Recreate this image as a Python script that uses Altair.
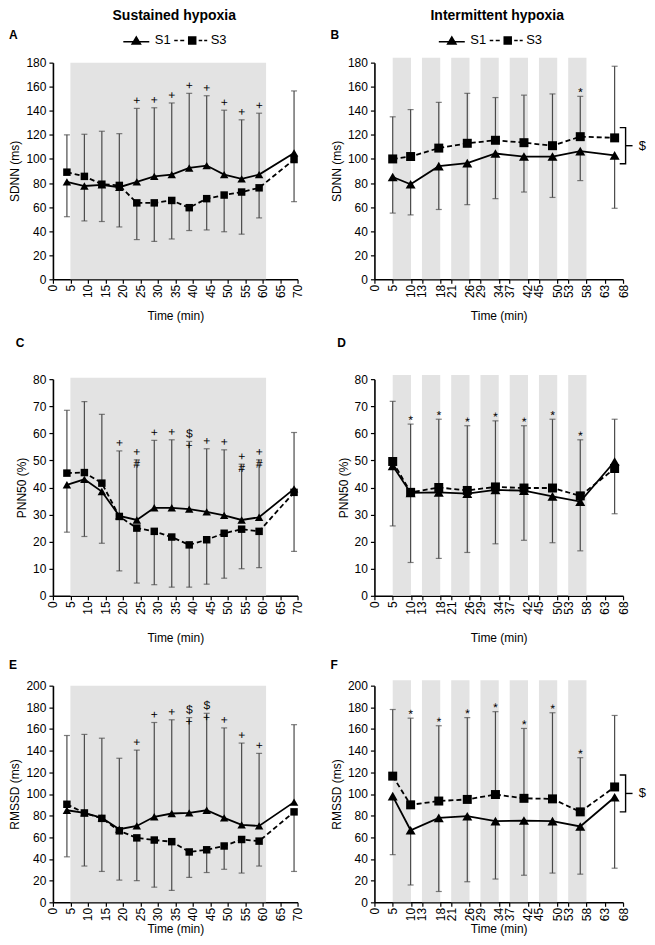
import altair as alt
import pandas as pd

FONT = "Liberation Sans"
BAND = "#e3e3e3"
ERR = "#4a4a4a"

# ---------------- shared x positions / axes ----------------
sus_time = [4, 9, 14, 19, 24, 29, 34, 39, 44, 49, 54, 59, 69]
int_time = [5, 9.9, 17.6, 25.4, 33.1, 40.9, 48.7, 56.3, 65.7]
sus_ticks = [0, 5, 10, 15, 20, 25, 30, 35, 40, 45, 50, 55, 60, 65, 70]
int_ticks = [0, 5, 10, 13, 18, 21, 26, 29, 34, 37, 42, 45, 50, 53, 58, 63, 68]
sus_band_start = [5]
sus_band_end = [61]
int_band_start = [5, 13, 21, 29, 37, 45, 53]
int_band_end = [10, 18, 26, 34, 42, 50, 58]

# ---------------- A: SDNN, sustained ----------------
a_s1 = [81, 77.5, 78.5, 76.5, 81, 85.5, 87, 92.5, 94.5, 87, 83.5, 87, 105]
a_s3 = [89, 85.5, 79, 78, 63.5, 63.5, 65.5, 59.5, 67, 70, 72.5, 76, 99.5]
a_hi = [120, 120.5, 123, 121, 142, 142.5, 146.5, 154.5, 152.5, 140.5, 132.5, 138, 156.5]
a_lo = [52, 48.5, 48, 43.5, 33, 31.5, 33.5, 40.5, 41, 39.5, 37.5, 51, 64.5]
a_sig = ["", "", "", "", "+", "+", "+", "+", "+", "+", "+", "+", ""]

# ---------------- B: SDNN, intermittent ----------------
b_s1 = [85, 79, 94, 96.5, 104.5, 102, 102, 106.5, 103]
b_s3 = [100, 102, 109, 113, 115.5, 113.5, 111, 118.5, 117.5]
b_hi = [135, 141, 147, 154.5, 151, 153, 154, 152, 177]
b_lo = [55, 53.5, 58, 62, 67, 72.5, 68, 82, 59]
b_sig = ["", "", "", "", "", "", "", "*", ""]
b_bracket = [96, 126]

# ---------------- C: PNN50, sustained ----------------
c_s1 = [41, 43, 38.5, 29.5, 28, 32.5, 32.5, 32, 31, 29.7, 28, 29, 39.5]
c_s3 = [45.3, 45.5, 41.6, 29.3, 25, 23.8, 21.7, 18.8, 20.7, 23.1, 24.6, 23.8, 38.2]
c_hi = [68.5, 71.7, 67, 53.5, 50.2, 57.4, 57.6, 57, 54.3, 53.9, 48.6, 50.2, 60.3]
c_lo = [23.5, 21.9, 19.4, 9.2, 4.7, 4.1, 3.2, 3.2, 4.3, 6.5, 10, 10.4, 16.4]
c_sig = ["", "", "", "+", "+\n#", "+", "+", "$\n+", "+", "+", "+\n#", "+\n#", ""]

# ---------------- D: PNN50, intermittent ----------------
d_s1 = [48, 38, 38.2, 37.7, 39.1, 38.8, 36.7, 34.8, 49.6]
d_s3 = [49.6, 38.2, 40, 38.9, 40.2, 39.8, 39.8, 36.9, 47]
d_hi = [71.8, 63.4, 65.2, 62.8, 64.6, 62.8, 65.2, 57.6, 65.2]
d_lo = [25.8, 12.3, 13.8, 16, 19.2, 20.5, 19.6, 16.6, 30.3]
d_sig = ["", "*", "*", "*", "*", "*", "*", "*", ""]

# ---------------- E: RMSSD, sustained ----------------
e_s1 = [85, 82.5, 78, 67.5, 70.5, 79, 82, 82.5, 85, 78, 71.5, 70.5, 92.5]
e_s3 = [90.5, 82.5, 77.5, 66, 59.5, 57.5, 56, 46.5, 48.5, 52, 58, 56.5, 83.5]
e_hi = [154, 155, 151.5, 133, 140.5, 166, 168.5, 170.5, 174.5, 161, 147, 137.5, 164]
e_lo = [42, 33.5, 28.5, 20.5, 20, 14, 11, 23, 27.5, 30.5, 27, 33.5, 28.5]
e_sig = ["", "", "", "", "+", "+", "+", "$\n+", "$\n+", "+", "+", "+", ""]

# ---------------- F: RMSSD, intermittent ----------------
f_s1 = [98, 66.5, 78, 79.5, 75, 75.5, 75, 70, 97]
f_s3 = [116.5, 90, 93.5, 95, 99.5, 96, 95.5, 83.5, 106.5]
f_hi = [178, 170, 163, 170.5, 176, 160.5, 175, 133.5, 172.5]
f_lo = [44, 16, 10, 19, 21.5, 25, 27, 26, 31.5]
f_sig = ["", "*", "*", "*", "*", "*", "*", "*", ""]
f_bracket = [83.5, 117.5]

series_names = ["S1", "S3"]

AX = dict(labelFont=FONT, labelFontSize=12, labelColor="black",
          titleFont=FONT, titleFontSize=12, titleFontWeight="normal", titleColor="black",
          domainColor="black", domainWidth=1.6, tickColor="black", tickWidth=1.2,
          tickSize=4, grid=False, labelOverlap=False, labelBound=False, labelFlush=False)

# legend glyphs drawn as filled shapes: line + triangle, dashed line + square
LEG_S1 = "M-2.6,0.1H2.6V0.42H-2.6Z M0,-1L1.1,0.85L-1.1,0.85Z"
LEG_S3 = ("M-3.6,-0.16H-2.9V0.16H-3.6Z M-2.4,-0.16H-1.6V0.16H-2.4Z "
          "M1.3,-0.16H2.0V0.16H1.3Z M2.4,-0.16H3.0V0.16H2.4Z "
          "M-0.85,-0.85H0.85V0.85H-0.85Z")


def panel(letter, times, s1, s3, hi, lo, sig, ymax, ystep, ytitle, xmax, xticks,
          band_start, band_end, band_top, width, tri_size, sq_size, sig_dy,
          title_offset, xtitle_pad, legend_x=None, bracket=None):
    df = pd.DataFrame({"t": times, "S1": s1, "S3": s3, "hi": hi, "lo": lo, "sig": sig})
    df["upper"] = df[["S1", "S3"]].max(axis=1)
    df["lower"] = df[["S1", "S3"]].min(axis=1)

    xs = alt.Scale(domain=[0, xmax], nice=False, zero=False)
    ys = alt.Scale(domain=[0, ymax], nice=False)
    xaxis = alt.Axis(values=xticks, labelAngle=270, title="Time (min)",
                     titlePadding=xtitle_pad, labelPadding=1, **AX)
    yaxis = alt.Axis(values=list(range(0, ymax + 1, ystep)), title=ytitle,
                     titlePadding=4, labelPadding=3, **AX)

    def X(f):
        return alt.X(f, type="quantitative", scale=xs, axis=xaxis)

    def Y(f):
        return alt.Y(f, type="quantitative", scale=ys, axis=yaxis)

    bands = pd.DataFrame({"x0": band_start, "x1": band_end})
    bands["y0"] = 0
    bands["y1"] = band_top
    band = alt.Chart(bands).mark_rect(color=BAND).encode(
        x=X("x0"), x2="x1", y=Y("y0"), y2="y1")

    up = alt.Chart(df).mark_rule(color=ERR, strokeWidth=1.2).encode(
        x=X("t"), y=Y("upper"), y2="hi")
    dn = alt.Chart(df).mark_rule(color=ERR, strokeWidth=1.2).encode(
        x=X("t"), y=Y("lower"), y2="lo")
    caps = alt.Chart(df).transform_fold(["hi", "lo"], as_=["k", "cap"]).mark_tick(
        color=ERR, thickness=1.2, size=6, orient="horizontal").encode(
        x=X("t"), y=Y("cap"))

    l1 = alt.Chart(df).mark_line(color="black", strokeWidth=1.8).encode(
        x=X("t"), y=Y("S1"))
    l3 = alt.Chart(df).mark_line(color="black", strokeWidth=1.8, strokeDash=[5, 3]).encode(
        x=X("t"), y=Y("S3"))
    p1 = alt.Chart(df).mark_point(shape="triangle-up", filled=True, color="black",
                                  opacity=1, size=tri_size).encode(x=X("t"), y=Y("S1"))
    p3 = alt.Chart(df).mark_point(shape="square", filled=True, color="black",
                                  opacity=1, size=sq_size).encode(x=X("t"), y=Y("S3"))

    txt = alt.Chart(df).transform_filter("datum.sig != ''").mark_text(
        font=FONT, fontSize=12, color="black", angle=1,
        baseline="bottom", dy=sig_dy, lineBreak="\n", lineHeight=12).encode(
        x=X("t"), y=Y("hi"), text="sig:N")

    layers = [band, up, dn, caps, l1, l3, p1, p3, txt]

    if legend_x is not None:
        ldf = pd.DataFrame({"series": series_names})
        leg = alt.Chart(ldf).mark_point(filled=True, color="black", opacity=0).encode(
            x=alt.value(0), y=alt.value(0),
            shape=alt.Shape("series:N",
                            scale=alt.Scale(domain=series_names, range=[LEG_S1, LEG_S3]),
                            legend=alt.Legend(orient="none", legendX=legend_x, legendY=-29,
                                              direction="horizontal", title=None,
                                              labelFont=FONT, labelFontSize=13,
                                              labelColor="black", symbolSize=100,
                                              symbolFillColor="black",
                                              symbolStrokeColor="black",
                                              symbolStrokeWidth=0, symbolOpacity=1,
                                              labelOffset=12, columnPadding=3,
                                              padding=0)))
        layers.append(leg)

    if bracket is not None:
        b_lo, b_hi = bracket
        xv = xmax + 0.7
        bdf = pd.DataFrame({"bx": [xv - 1.6, xv, xv, xv - 1.6],
                            "by": [b_hi, b_hi, b_lo, b_lo], "o": [0, 1, 2, 3]})
        br = alt.Chart(bdf).mark_line(color="black", strokeWidth=1.4).encode(
            x=X("bx"), y=Y("by"), order="o:Q")
        mid = (b_lo + b_hi) / 2
        mdf = pd.DataFrame({"mx0": [xv], "mx1": [xv + 1.9], "my": [mid],
                            "tx": [xv + 4.6], "lab": ["$"]})
        mt = alt.Chart(mdf).mark_rule(color="black", strokeWidth=1.4).encode(
            x=X("mx0"), x2="mx1", y=Y("my"))
        ms = alt.Chart(mdf).mark_text(font=FONT, fontSize=13, color="black").encode(
            x=X("tx"), y=Y("my"), text="lab:N")
        layers += [br, mt, ms]

    return alt.layer(*layers).properties(
        width=width, height=217,
        title=alt.TitleParams(letter, anchor="start", font=FONT, fontSize=12,
                              fontWeight="bold", color="black", offset=title_offset))


A = panel("A", sus_time, a_s1, a_s3, a_hi, a_lo, a_sig, 180, 20, "SDNN (ms)", 70, sus_ticks,
          sus_band_start, sus_band_end, 180, 245, 72, 56, -1, -8, 13, legend_x=77)
C = panel("C", sus_time, c_s1, c_s3, c_hi, c_lo, c_sig, 80, 10, "PNN50 (%)", 70, sus_ticks,
          sus_band_start, sus_band_end, 80.5, 245, 72, 56, -1, 23, 18)
E = panel("E", sus_time, e_s1, e_s3, e_hi, e_lo, e_sig, 200, 20, "RMSSD (ms)", 70, sus_ticks,
          sus_band_start, sus_band_end, 200, 245, 72, 56, -1, 8, 3)
B = panel("B", int_time, b_s1, b_s3, b_hi, b_lo, b_sig, 180, 20, "SDNN (ms)", 68, int_ticks,
          int_band_start, int_band_end, 184, 249, 100, 81, 3, -8, 13, legend_x=71,
          bracket=b_bracket)
D = panel("D", int_time, d_s1, d_s3, d_hi, d_lo, d_sig, 80, 10, "PNN50 (%)", 68, int_ticks,
          int_band_start, int_band_end, 81.5, 249, 100, 81, 3, 23, 18)
F = panel("F", int_time, f_s1, f_s3, f_hi, f_lo, f_sig, 200, 20, "RMSSD (ms)", 68, int_ticks,
          int_band_start, int_band_end, 205, 249, 100, 81, 3, 8, 3, bracket=f_bracket)

left = alt.vconcat(A, C, E, spacing=15).properties(
    title=alt.TitleParams("Sustained hypoxia", anchor="middle", font=FONT, fontSize=14,
                          fontWeight="bold", color="black", dx=18, offset=6)
).resolve_scale(shape="independent").resolve_legend(shape="independent")
right = alt.vconcat(B, D, F, spacing=15).properties(
    title=alt.TitleParams("Intermittent hypoxia", anchor="middle", font=FONT, fontSize=14,
                          fontWeight="bold", color="black", dx=9, offset=6)
).resolve_scale(shape="independent").resolve_legend(shape="independent")

chart = alt.hconcat(left, right, spacing=26).properties(
    padding={"left": 0, "top": 0, "right": 0, "bottom": 0}
).resolve_scale(shape="independent").resolve_legend(shape="independent").configure_view(stroke=None)

chart.save("out.html", embed_options={"renderer": "svg", "actions": False})
